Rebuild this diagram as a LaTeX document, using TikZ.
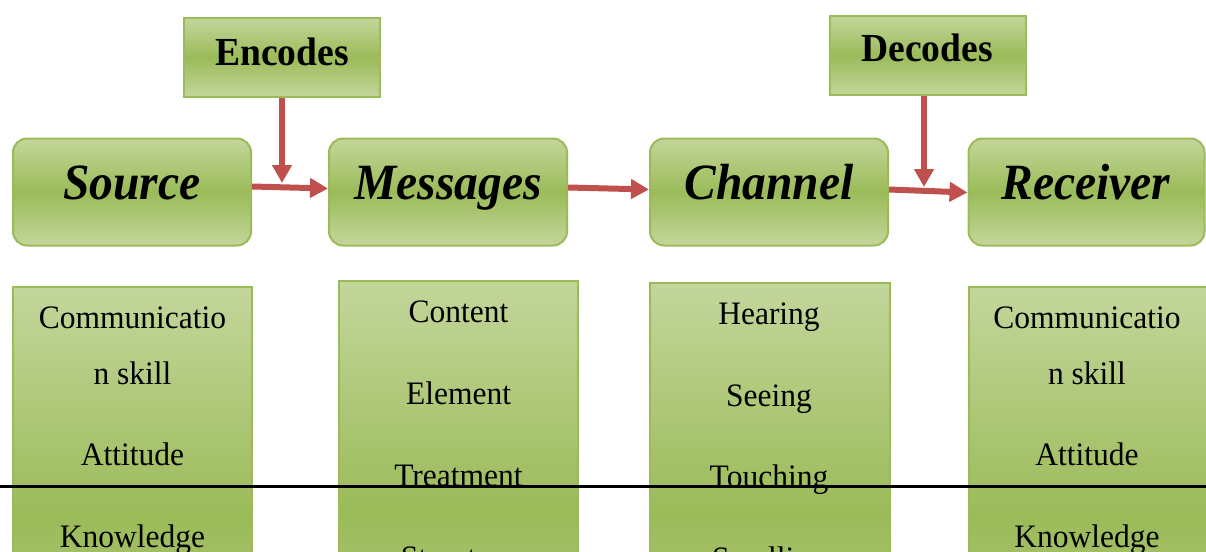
\documentclass[tikz,border=0pt]{standalone}
\usepackage{fontspec}
\usepackage{graphicx}
\setmainfont{Liberation Serif}
\usetikzlibrary{arrows.meta}
\definecolor{leafLight}{HTML}{C3D69B}
\definecolor{leafDark}{HTML}{9BBB59}
\definecolor{leafEdge}{HTML}{9BBB59}
\definecolor{flowRed}{HTML}{C0504D}
\begin{document}
\begin{tikzpicture}[x=1pt,y=-1pt,
  stagebox/.style={draw=leafEdge, line width=2pt, rounded corners=14pt,
    top color=leafLight, bottom color=leafLight, middle color=leafDark,
    minimum width=238pt, minimum height=107pt, inner sep=0pt},
  codebox/.style={draw=leafEdge, line width=2pt,
    top color=leafLight, bottom color=leafLight, middle color=leafDark,
    minimum width=196pt, minimum height=79pt, inner sep=0pt},
  listbox/.style={draw=leafEdge, line width=2pt,
    top color=leafLight, bottom color=leafLight, middle color=leafDark,
    minimum width=239pt, minimum height=463pt, inner sep=0pt},
  stagetext/.style={anchor=base, inner sep=0pt,
    font=\fontsize{47.5}{50}\selectfont\bfseries\itshape},
  codetext/.style={anchor=base, inner sep=0pt,
    font=\fontsize{37.5}{40}\selectfont\bfseries},
  itemtext/.style={anchor=base, inner sep=0pt,
    font=\fontsize{31.5}{34}\selectfont},
  flow/.style={draw=flowRed, line width=6pt, -{Triangle[length=18pt,width=19pt]}},
]
\useasboundingbox (0,0) rectangle (1206,551);
\clip (0,0) rectangle (1206,551);

% coder boxes
\node[codebox] (enc) at (282,57.5) {};
\node[codebox] (dec) at (927.5,55.5) {};

% main stages
\node[stagebox] (src) at (132,192) {};
\node[stagebox] (msg) at (448,192) {};
\node[stagebox] (chn) at (769,192) {};
\node[stagebox, minimum width=236pt] (rcv) at (1086.5,192) {};

% attribute columns
\node[listbox] (colA) at (132.5,518.5) {};
\node[listbox] (colB) at (458.5,512.5) {};
\node[listbox, minimum width=240pt] (colC) at (770,514.5) {};
\node[listbox, minimum width=240pt] (colD) at (1089,518.5) {};

% connectors
\coordinate (j1) at (282,183);
\coordinate (j2) at (924,187);
\draw[flow] ([yshift=5.5pt]src.east) -- ([yshift=3.5pt]msg.west);
\draw[flow] ([yshift=4.5pt]msg.east) -- ([yshift=2.5pt]chn.west);
\draw[flow] ([yshift=2.5pt]chn.east) -- ([yshift=-0.5pt]rcv.west);
\draw[flow] (enc.south) -- (j1);
\draw[flow] ([xshift=-3.5pt]dec.south) -- (j2);

% labels
\node[codetext] (encT) at (282,65) {\scalebox{1}[1.06]{Encodes}};
\node[codetext] (decT) at (927,62) {\scalebox{1}[1.06]{Decodes}};
\node[stagetext] (srcT) at (132,199) {\scalebox{1}[1.07]{Source}};
\node[stagetext] (msgT) at (448,199) {\scalebox{1}[1.07]{Messages}};
\node[stagetext] (chnT) at (769,199) {\scalebox{1}[1.07]{Channel}};
\node[stagetext] (rcvT) at (1086,199) {\scalebox{1}[1.07]{Receiver}};

\node[itemtext] (a1) at (132.5,328) {\scalebox{1}[1.04]{Communicatio}};
\node[itemtext] (a2) at (132.5,384) {\scalebox{1}[1.04]{n skill}};
\node[itemtext] (a3) at (132.5,465) {\scalebox{1}[1.04]{Attitude}};
\node[itemtext] (a4) at (132.5,547) {\scalebox{1}[1.04]{Knowledge}};

\node[itemtext] (b1) at (458.5,322) {\scalebox{1}[1.04]{Content}};
\node[itemtext] (b2) at (458.5,404) {\scalebox{1}[1.04]{Element}};
\node[itemtext] (b3) at (458.5,486) {\scalebox{1}[1.04]{Treatment}};
\node[itemtext] (b4) at (458.5,568) {\scalebox{1}[1.04]{Structure}};

\node[itemtext] (c1) at (769,324) {\scalebox{1}[1.04]{Hearing}};
\node[itemtext] (c2) at (769,406) {\scalebox{1}[1.04]{Seeing}};
\node[itemtext] (c3) at (769,487) {\scalebox{1}[1.04]{Touching}};
\node[itemtext] (c4) at (769,569) {\scalebox{1}[1.04]{Smelling}};

\node[itemtext] (d1) at (1087,328) {\scalebox{1}[1.04]{Communicatio}};
\node[itemtext] (d2) at (1087,384) {\scalebox{1}[1.04]{n skill}};
\node[itemtext] (d3) at (1087,465) {\scalebox{1}[1.04]{Attitude}};
\node[itemtext] (d4) at (1087,547) {\scalebox{1}[1.04]{Knowledge}};

% page rule
\coordinate (ruleL) at (0,486.7);
\coordinate (ruleR) at (1206,486.7);
\draw[line width=2.7pt, black] (ruleL) -- (ruleR);
\end{tikzpicture}
\end{document}
